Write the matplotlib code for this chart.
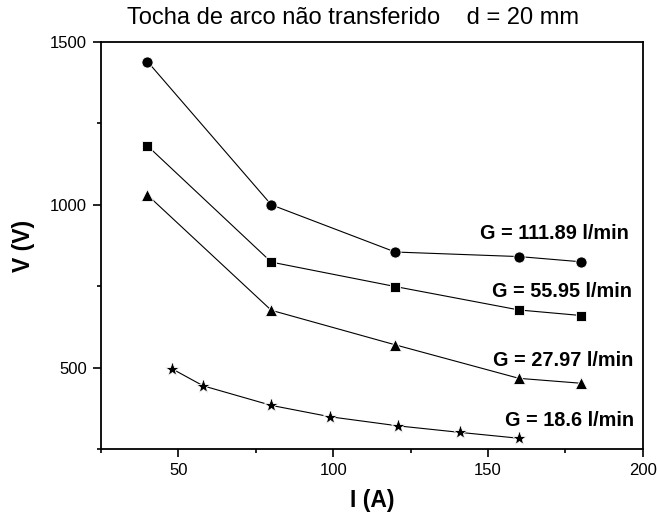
import matplotlib
matplotlib.use("Agg")
import matplotlib.pyplot as plt
from matplotlib.ticker import MultipleLocator

plt.rcParams['font.family'] = ['Liberation Sans', 'DejaVu Sans']

# Current (A) and voltage (V) for each gas flow rate
i_111 = [40, 80, 120, 160, 180]
v_111 = [1440, 1000, 855, 841, 825]

i_56 = [40, 80, 120, 160, 180]
v_56 = [1181, 824, 749, 677, 660]

i_28 = [40, 80, 120, 160, 180]
v_28 = [1030, 676, 570, 467, 452]

i_186 = [48, 58, 80, 99, 121, 141, 160]
v_186 = [496, 444, 384, 349, 321, 301, 283]

labels = ["G = 111.89 l/min", "G = 55.95 l/min", "G = 27.97 l/min", "G = 18.6 l/min"]
label_pos = [(195.6, 913), (196.5, 735), (197, 523), (197.3, 339)]

fig = plt.figure(figsize=(6.58, 5.17), dpi=100)
ax = fig.add_axes([0.1535, 0.1315, 0.8235, 0.7873])

common = dict(color='black', linewidth=0.8, markeredgecolor='white', markeredgewidth=0.6)
ax.plot(i_111, v_111, marker='o', markersize=8, **common)
ax.plot(i_56, v_56, marker='s', markersize=7, **common)
ax.plot(i_28, v_28, marker='^', markersize=9, **common)
ax.plot(i_186, v_186, marker='*', markersize=11, **common)

for txt, (x, y) in zip(labels, label_pos):
    ax.text(x, y, txt, ha='right', va='center', fontsize=14.3, fontweight='bold')

ax.set_xlim(25, 200)
ax.set_ylim(250, 1500)
ax.xaxis.set_major_locator(MultipleLocator(50))
ax.xaxis.set_minor_locator(MultipleLocator(25))
ax.yaxis.set_major_locator(MultipleLocator(500))
ax.yaxis.set_minor_locator(MultipleLocator(250))
ax.tick_params(which='major', direction='out', length=6, width=1.2, labelsize=12, pad=4)
ax.tick_params(which='minor', direction='out', length=3, width=1.2)
for s in ax.spines.values():
    s.set_linewidth(1.3)

ax.set_xlabel("I (A)", fontsize=16.5, fontweight='bold', labelpad=8)
ax.set_ylabel("V (V)", fontsize=16.5, fontweight='bold', labelpad=11)
fig.text(0.537, 0.965, "Tocha de arco não transferido    d = 20 mm", ha='center', va='center', fontsize=17)

fig.savefig("out.png", dpi=100)
